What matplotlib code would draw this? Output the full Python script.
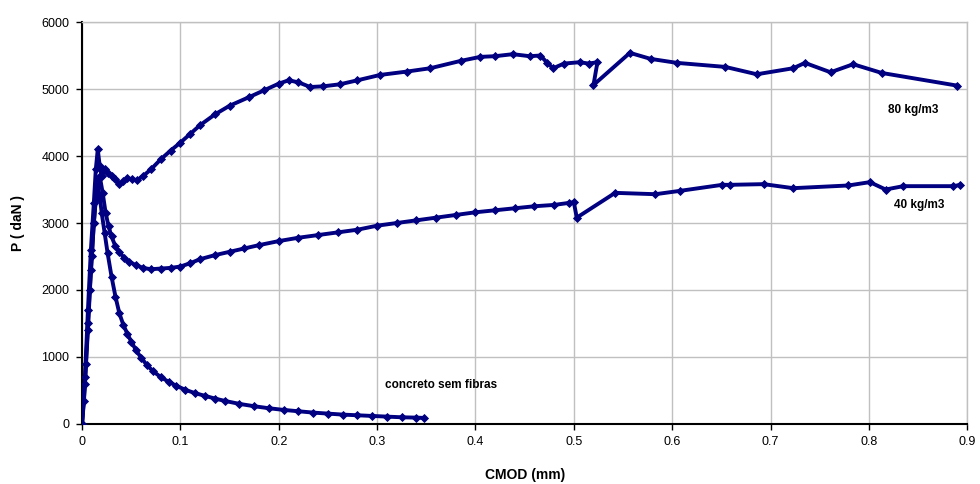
"""
P x CMOD curves for fibre-reinforced concrete beams.
"""

import matplotlib
matplotlib.use('Agg')
import matplotlib.pyplot as plt

plt.rcParams['font.family'] = ['Liberation Sans', 'DejaVu Sans']

# plain concrete (no fibres)
plain_x = [0.000, 0.002, 0.004, 0.006, 0.008, 0.010, 0.012, 0.014, 0.016, 0.018,
           0.020, 0.023, 0.026, 0.030, 0.034, 0.038, 0.042, 0.046, 0.050, 0.055,
           0.060, 0.066, 0.072, 0.080, 0.088, 0.096, 0.105, 0.115, 0.125, 0.135,
           0.145, 0.160, 0.175, 0.190, 0.205, 0.220, 0.235, 0.250, 0.265, 0.280,
           0.295, 0.310, 0.325, 0.340, 0.348]
plain_p = [0, 350, 900, 1400, 2000, 2500, 3000, 3350, 3550, 3400,
           3150, 2850, 2550, 2200, 1900, 1650, 1480, 1350, 1230, 1100,
           990, 880, 790, 700, 630, 570, 510, 460, 420, 380,
           345, 300, 265, 235, 210, 190, 170, 155, 140, 130,
           120, 110, 100, 95, 90]

# 40 kg/m3
f40_x = [0.000, 0.003, 0.006, 0.009, 0.012, 0.015, 0.018, 0.021, 0.024, 0.027,
         0.030, 0.034, 0.038, 0.043, 0.048, 0.055, 0.062, 0.070, 0.080, 0.090,
         0.100, 0.110, 0.120, 0.135, 0.150, 0.165, 0.180, 0.200, 0.220, 0.240,
         0.260, 0.280, 0.300, 0.320, 0.340, 0.360, 0.380, 0.400, 0.420, 0.440,
         0.460, 0.480, 0.495, 0.500, 0.503, 0.542, 0.583, 0.608, 0.651, 0.659,
         0.693, 0.723, 0.779, 0.801, 0.817, 0.835, 0.886, 0.893]
f40_p = [0, 600, 1500, 2300, 3000, 3550, 3700, 3450, 3150, 2950,
         2800, 2650, 2560, 2480, 2420, 2370, 2330, 2310, 2320, 2330,
         2350, 2400, 2460, 2520, 2570, 2620, 2670, 2730, 2780, 2820,
         2860, 2900, 2960, 3000, 3040, 3080, 3120, 3160, 3190, 3220,
         3250, 3270, 3300, 3310, 3080, 3450, 3430, 3480, 3570, 3570,
         3580, 3520, 3560, 3610, 3500, 3550, 3550, 3570]

# 80 kg/m3
f80_x = [0.000, 0.003, 0.006, 0.009, 0.012, 0.014, 0.016, 0.018, 0.020, 0.023,
         0.026, 0.030, 0.034, 0.038, 0.042, 0.046, 0.051, 0.056, 0.062, 0.070,
         0.080, 0.090, 0.100, 0.110, 0.120, 0.135, 0.150, 0.170, 0.185, 0.200,
         0.210, 0.220, 0.232, 0.245, 0.262, 0.280, 0.303, 0.330, 0.354, 0.385,
         0.405, 0.420, 0.438, 0.455, 0.466, 0.473, 0.479, 0.490, 0.506, 0.515,
         0.524, 0.520, 0.557, 0.578, 0.605, 0.654, 0.686, 0.723, 0.735, 0.761,
         0.784, 0.813, 0.890]
f80_p = [0, 700, 1700, 2600, 3300, 3800, 4100, 3850, 3700, 3800,
         3750, 3700, 3650, 3580, 3620, 3670, 3650, 3640, 3700, 3800,
         3950, 4080, 4200, 4330, 4460, 4620, 4750, 4880, 4980, 5080,
         5130, 5100, 5030, 5040, 5070, 5130, 5210, 5260, 5310, 5420,
         5480, 5490, 5520, 5490, 5500, 5390, 5310, 5380, 5400, 5380,
         5400, 5060, 5540, 5450, 5390, 5330, 5220, 5310, 5390, 5250,
         5370, 5240, 5050]

xticks = [0, 0.1, 0.2, 0.3, 0.4, 0.5, 0.6, 0.7, 0.8, 0.9]
xtick_labels = ['0', '0.1', '0.2', '0.3', '0.4', '0.5', '0.6', '0.7', '0.8', '0.9']
yticks = [0, 1000, 2000, 3000, 4000, 5000, 6000]

navy = '#000080'
grid_c = '#c0c0c0'

fig = plt.figure(figsize=(9.8, 4.84), dpi=100)
ax = fig.add_axes([0.0837, 0.124, 0.9033, 0.8305])

for xs, ps in [(plain_x, plain_p), (f40_x, f40_p), (f80_x, f80_p)]:
    ax.plot(xs, ps, color=navy, linewidth=2.8, marker='D', markersize=4.2,
            markeredgewidth=0.6, zorder=3)

ax.set_xlim(0, 0.9)
ax.set_ylim(0, 6000)
ax.set_xticks(xticks)
ax.set_xticklabels(xtick_labels)
ax.set_yticks(yticks)
ax.grid(True, color=grid_c, linewidth=1)
ax.set_axisbelow(True)

for s in ['top', 'right']:
    ax.spines[s].set_color(grid_c)
    ax.spines[s].set_linewidth(1)
for s in ['left', 'bottom']:
    ax.spines[s].set_color('black')
    ax.spines[s].set_linewidth(1.5)

ax.tick_params(axis='both', labelsize=9, direction='out', length=4,
               width=1, colors='black', pad=5)

ax.set_xlabel('CMOD (mm)', fontsize=10, fontweight='bold', labelpad=14)
ax.set_ylabel('P ( daN )', fontsize=10, fontweight='bold', labelpad=12)

ax.text(0.845, 4690, '80 kg/m3', fontsize=8.5, fontweight='bold',
        ha='center', va='center')
ax.text(0.851, 3270, '40 kg/m3', fontsize=8.5, fontweight='bold',
        ha='center', va='center')
ax.text(0.308, 580, 'concreto sem fibras', fontsize=8.5, fontweight='bold',
        ha='left', va='center')

plt.savefig('out.png', dpi=100)
print("Saved out.png")
